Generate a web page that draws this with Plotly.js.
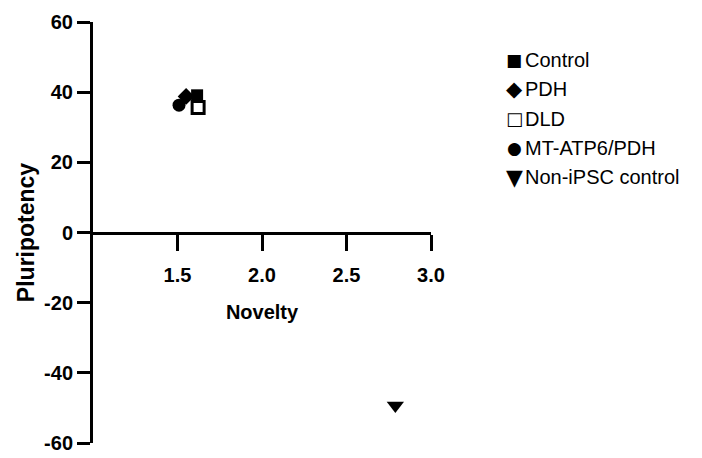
<!DOCTYPE html>
<html>
<head>
<meta charset="utf-8">
<script src="https://cdn.plot.ly/plotly-3.0.1.min.js"></script>
<style>html,body{margin:0;padding:0;background:#fff}#chart{width:702px;height:458px}</style>
</head>
<body>
<div id="chart"></div>
<script>
// Data
var seriesNames = ["Control", "PDH", "DLD", "MT-ATP6/PDH", "Non-iPSC control"];
var noveltyValues = [1.616, 1.551, 1.622, 1.509, 2.789];
var pluripotencyValues = [39.1, 38.8, 35.6, 36.3, -49.3];
var legendGlyphs = ["\u25A0", "\u25C6", "\u25A1", "\u25CF", "\u25BC"];

var xTickVals = [1.5, 2.0, 2.5, 3.0];
var xTickText = ["1.5", "2.0", "2.5", "3.0"];
var yTickVals = [-60, -40, -20, 0, 20, 40, 60];
var yTickText = ["-60", "-40", "-20", "0", "20", "40", "60"];

// Styles (kept out of the data arrays)
var symbols = ["square", "diamond", "square-open", "circle", "triangle-down"];
var sizes = [12, 13, 12, 13, 15];
var glyphSizes = [17, 21, 18, 17, 22];
var drawOrder = [3, 1, 2, 0, 4];

var FONT = "Liberation Sans, Arial, sans-serif";
var GLYPH_FONT = "DejaVu Sans, sans-serif";

var traces = drawOrder.map(function (i) {
  return {
    type: "scatter",
    mode: "markers",
    name: seriesNames[i],
    x: [noveltyValues[i]],
    y: [pluripotencyValues[i]],
    marker: {
      symbol: symbols[i],
      size: sizes[i],
      color: "#000",
      line: {color: "#000", width: symbols[i] === "square-open" ? 3 : 0}
    },
    showlegend: false,
    cliponaxis: false
  };
});

var legendTop = 0.910, legendStep = 0.0697;
var annotations = [];
seriesNames.forEach(function (n, i) {
  var y = legendTop - i * legendStep;
  annotations.push({
    xref: "paper", yref: "paper",
    x: 1.2456, y: y,
    xanchor: "center", yanchor: "middle",
    text: legendGlyphs[i],
    showarrow: false, borderpad: 0,
    font: {family: GLYPH_FONT, size: glyphSizes[i], color: "#000"}
  });
  annotations.push({
    xref: "paper", yref: "paper",
    x: 1.275, y: y,
    xanchor: "left", yanchor: "middle",
    text: n,
    showarrow: false, borderpad: 0,
    font: {family: FONT, size: 20, color: "#000"}
  });
});

var layout = {
  width: 702, height: 458,
  margin: {l: 93, r: 271, t: 22, b: 15, pad: 0},
  paper_bgcolor: "#fff", plot_bgcolor: "#fff",
  showlegend: false,
  font: {family: FONT, color: "#000"},
  xaxis: {
    range: [1, 3],
    anchor: "free", position: 0.5,
    showline: true, linewidth: 3, linecolor: "#000",
    ticks: "outside", ticklen: 16, tickwidth: 3, tickcolor: "#000",
    tickvals: xTickVals, ticktext: xTickText,
    ticklabelstandoff: 7,
    tickfont: {family: FONT, size: 20, weight: "bold", color: "#000"},
    showgrid: false, zeroline: false,
    title: {text: "Novelty", font: {family: FONT, size: 20, weight: "bold", color: "#000"}, standoff: 20},
    automargin: false
  },
  yaxis: {
    range: [-60, 60],
    showline: true, linewidth: 3, linecolor: "#000",
    ticks: "outside", ticklen: 13, tickwidth: 3, tickcolor: "#000",
    tickvals: yTickVals, ticktext: yTickText,
    ticklabelstandoff: 0,
    tickfont: {family: FONT, size: 20, weight: "bold", color: "#000"},
    showgrid: false, zeroline: false,
    title: {text: "Pluripotency", font: {family: FONT, size: 23, weight: "bold", color: "#000"}, standoff: 4},
    automargin: false
  },
  annotations: annotations
};

Plotly.newPlot("chart", traces, layout, {displayModeBar: false, staticPlot: true});
</script>
</body>
</html>
